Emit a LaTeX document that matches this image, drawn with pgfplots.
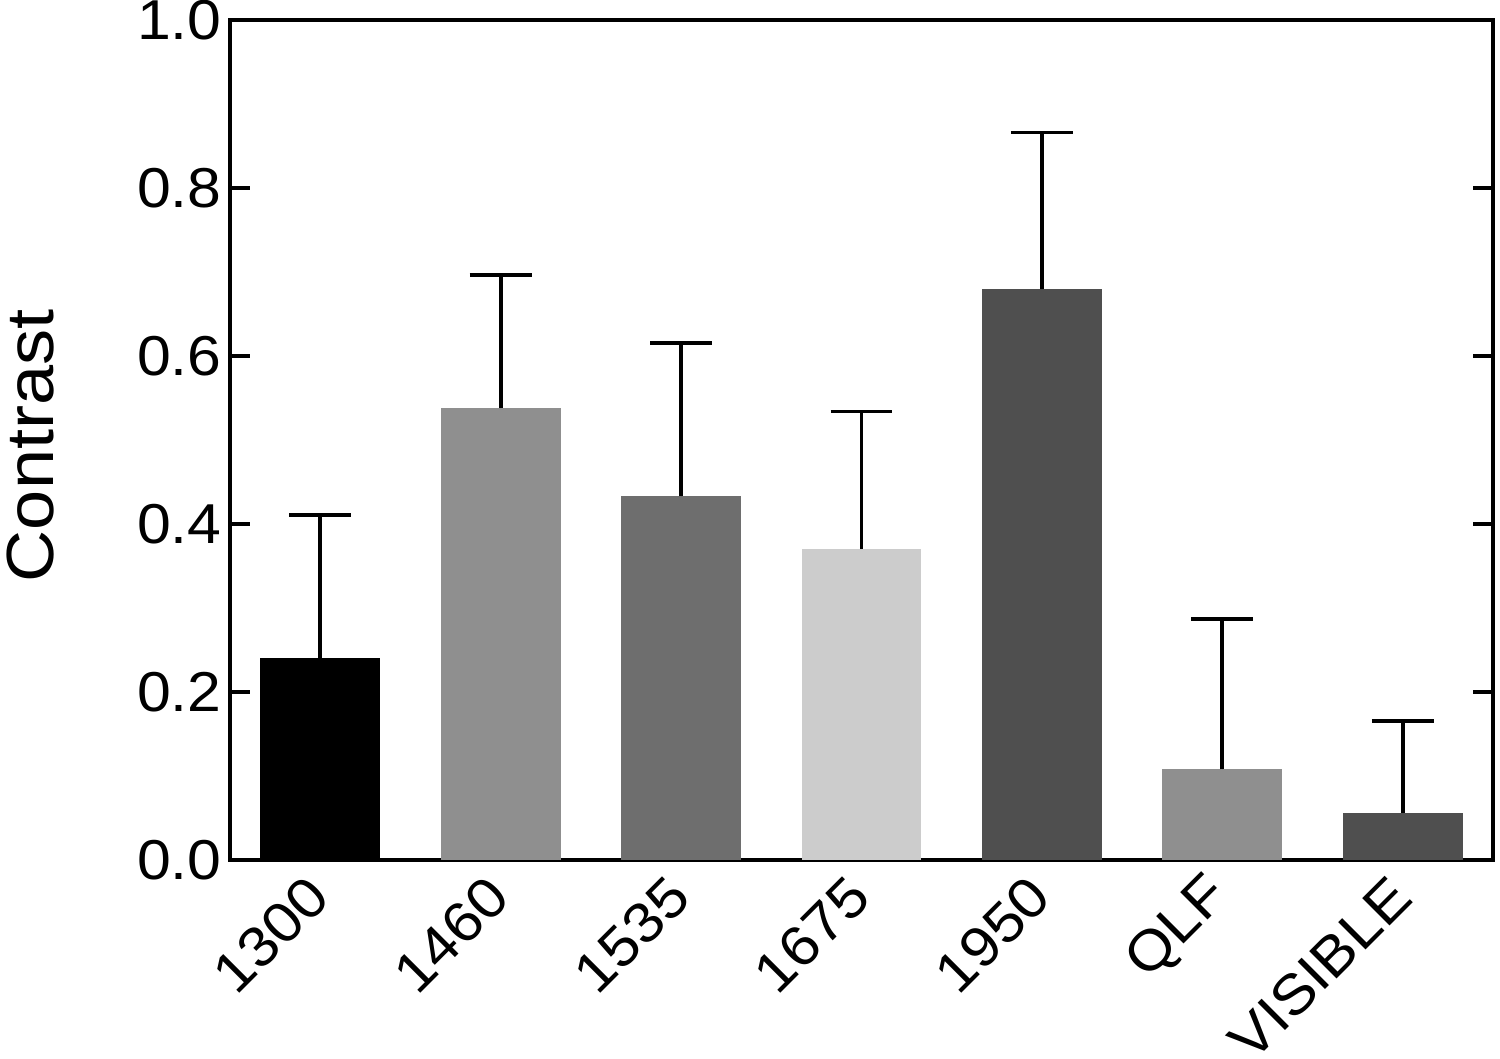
\documentclass[border=0pt]{standalone}
\usepackage{pgfplots}
\pgfplotsset{compat=1.18}
\usepackage{fontspec}
\setmainfont{Liberation Sans}[FakeStretch=1.08]

\definecolor{cA}{gray}{0.0}
\definecolor{cB}{gray}{0.56}
\definecolor{cC}{gray}{0.43}
\definecolor{cD}{gray}{0.80}
\definecolor{cE}{gray}{0.31}

\begin{document}
\begin{tikzpicture}
\begin{axis}[
    scale only axis,
    width=12.63cm,
    height=8.40cm,
    xmin=-0.5, xmax=6.5,
    ymin=0, ymax=1,
    axis line style={line width=1.2pt},
    xtick={0,1,2,3,4,5,6},
    xticklabels={1300,1460,1535,1675,1950,QLF,VISIBLE},
    xtick style={draw=none},
    % shifts act in the rotated frame
    xticklabel style={rotate=45, anchor=east, xshift=-0.08cm, yshift=-0.18cm,
        font=\fontsize{16}{19}\selectfont},
    ytick={0,0.2,0.4,0.6,0.8,1.0},
    yticklabel style={/pgf/number format/fixed, /pgf/number format/fixed zerofill,
        /pgf/number format/precision=1, xshift=0.04cm, font=\fontsize{16}{19}\selectfont},
    /pgf/number format/assume math mode=true,
    ytick pos=both,
    tick align=inside,
    major tick length=0.2cm,
    ytick style={line width=1.1pt, black},
    ylabel={Contrast},
    every axis y label/.style={at={(axis description cs:-0.158,0.493)}, rotate=90,
        anchor=center, font=\fontsize{19}{22}\selectfont},
    bar width=0.665,
    every axis plot/.append style={ybar, bar shift=0pt, draw=none},
    error bars/y dir=plus,
    error bars/y explicit,
    error bars/error bar style={line width=1.1pt, black},
    error bars/error mark options={rotate=90, mark size=8.8pt, line width=1.1pt, black},
]
\addplot[fill=cA] coordinates {(0,0.241) +- (0,0.170)};
\addplot[fill=cB] coordinates {(1,0.538) +- (0,0.158)};
\addplot[fill=cC] coordinates {(2,0.433) +- (0,0.182)};
\addplot[fill=cD] coordinates {(3,0.370) +- (0,0.164)};
\addplot[fill=cE] coordinates {(4,0.680) +- (0,0.186)};
\addplot[fill=cB] coordinates {(5,0.108) +- (0,0.179)};
\addplot[fill=cE] coordinates {(6,0.056) +- (0,0.109)};
\end{axis}
\pgfresetboundingbox
\path (current axis.south west) ++(-2.30cm,-1.99cm) rectangle ++(15cm,10.59cm);
\end{tikzpicture}
\end{document}
